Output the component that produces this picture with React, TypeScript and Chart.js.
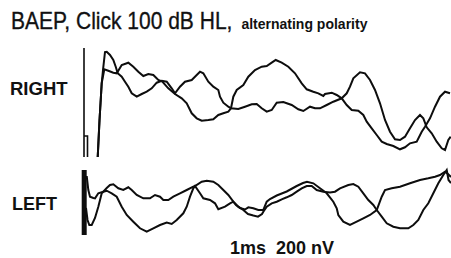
import React, { useEffect, useRef } from "react";
import { Chart, registerables } from "chart.js";

Chart.register(...registerables);

// time in ms, amplitude in nV
const timeMax = 9.275;

// RIGHT ear, two alternating-polarity averages
const rightA: number[][] = [
  [0.443, -570], [0.488, -200], [0.543, 170], [0.575, 300], [0.625, 480], [0.668, 483], [0.75, 450],
  [0.833, 400], [0.893, 333], [0.943, 267], [1.043, 233], [1.125, 183], [1.208, 133], [1.293, 67],
  [1.418, 33], [1.543, 60], [1.668, 83], [1.793, 117], [1.918, 173], [2.043, 193], [2.168, 183],
  [2.293, 117], [2.375, 67], [2.5, 133], [2.625, 183], [2.793, 200], [2.918, 250], [3.0, 283],
  [3.083, 267], [3.208, 183], [3.333, 133], [3.458, 100], [3.5, 33], [3.583, -27], [3.708, -67],
  [3.775, -83], [3.958, -90], [4.125, -67], [4.293, -43], [4.418, -40], [4.543, -83], [4.668, -117],
  [4.793, -100], [4.918, -27], [5.083, -20], [5.293, -50], [5.458, -93], [5.583, -110], [5.75, -67],
  [5.875, -83], [6.0, -83], [6.168, -50], [6.333, -17], [6.543, 17], [6.668, 67], [6.75, 133],
  [6.833, 217], [7.0, 277], [7.125, 267], [7.25, 200], [7.375, 100], [7.5, -33], [7.625, -200],
  [7.75, -317], [7.875, -393], [8.0, -400], [8.125, -367], [8.25, -283], [8.375, -200], [8.5, -150],
  [8.583, -183], [8.668, -273], [8.793, -333], [8.918, -417], [9.043, -483], [9.125, -500],
  [9.208, -400], [9.268, -367],
];

const rightB: number[][] = [
  [0.443, -570], [0.488, -200], [0.543, 170], [0.608, 307], [0.708, 293], [0.833, 273], [0.918, 267],
  [1.043, 350], [1.208, 373], [1.333, 333], [1.458, 283], [1.583, 240], [1.708, 260], [1.833, 250],
  [1.958, 200], [2.058, 183], [2.208, 117], [2.375, 60], [2.543, 17], [2.668, -33], [2.793, -133],
  [2.918, -183], [3.043, -207], [3.208, -200], [3.333, -193], [3.458, -150], [3.583, -133],
  [3.708, -117], [3.775, -83], [3.833, 33], [3.918, 100], [4.083, 150], [4.208, 233], [4.375, 300],
  [4.543, 333], [4.668, 340], [4.793, 373], [4.893, 400], [5.043, 373], [5.208, 333], [5.375, 267],
  [5.543, 167], [5.668, 107], [5.833, 83], [5.958, 67], [6.083, 40], [6.125, 60], [6.293, 73],
  [6.418, 50], [6.543, 17], [6.668, -50], [6.793, -100], [6.958, -107], [7.083, -150], [7.168, -217],
  [7.293, -283], [7.418, -350], [7.543, -417], [7.668, -440], [7.833, -460], [8.0, -493],
  [8.125, -473], [8.25, -433], [8.418, -417], [8.543, -317], [8.625, -267], [8.75, -183],
  [8.875, -67], [9.0, 33], [9.125, 83], [9.25, 67],
];

// stimulus artifact (null breaks the line)
const rightArtifact: (number | null)[][] = [
  [0.1, -570], [0.1, 520], [0.1, null], [0.1, -360], [0.1875, -360], [0.1875, -570],
];

// LEFT ear
const leftA: number[][] = [
  [0.168, 290], [0.208, 150], [0.25, 83], [0.333, 70], [0.375, 67], [0.458, 117], [0.583, 133],
  [0.668, 170], [0.75, 200], [0.833, 207], [0.958, 167], [1.083, 150], [1.208, 177], [1.293, 150],
  [1.418, 100], [1.583, 67], [1.75, 67], [1.875, 100], [2.0, 83], [2.083, 50], [2.208, 50],
  [2.333, 83], [2.5, 117], [2.668, 150], [2.833, 183], [2.875, 190], [3.043, 233], [3.168, 243],
  [3.333, 233], [3.458, 200], [3.583, 150], [3.708, 100], [3.833, 33], [3.958, -17], [4.083, -50],
  [4.2, -90], [4.333, -105], [4.45, -117], [4.55, -90], [4.583, -67], [4.668, -17], [4.793, 17],
  [4.918, 33], [5.043, 57], [5.168, 77], [5.293, 100], [5.418, 133], [5.543, 167], [5.668, 190],
  [5.793, 190], [5.918, 150], [6.083, 133], [6.25, 125], [6.375, 133], [6.5, 167], [6.708, 200],
  [6.833, 210], [6.958, 183], [7.083, 117], [7.208, 50], [7.333, 0], [7.418, -50], [7.543, -117],
  [7.668, -183], [7.833, -217], [8.0, -233], [8.208, -233], [8.333, -200], [8.458, -150],
  [8.583, -50], [8.708, 17], [8.833, 117], [8.958, 217], [9.083, 300], [9.168, 350], [9.213, 250],
  [9.275, 220],
];

const leftB: number[][] = [
  [0.15, -30], [0.188, -150], [0.233, -200], [0.293, -200], [0.375, -130], [0.458, -17],
  [0.543, 117], [0.583, 133], [0.668, 143], [0.793, 117], [0.918, 83], [1.043, -17], [1.168, -100],
  [1.333, -167], [1.5, -233], [1.668, -267], [1.833, -233], [2.0, -200], [2.168, -175],
  [2.293, -190], [2.418, -150], [2.583, -83], [2.668, -17], [2.75, 83], [2.833, 167], [2.875, 190],
  [3.0, 117], [3.083, 67], [3.25, 50], [3.375, 17], [3.458, -43], [3.625, -17], [3.75, 17],
  [3.833, 33], [3.9, 0], [4.0, -30], [4.125, -45], [4.208, -23], [4.333, -33], [4.458, -50],
  [4.583, -50], [4.668, 33], [4.75, 60], [4.918, 95], [5.168, 135], [5.418, 190], [5.575, 220],
  [5.675, 233], [5.833, 217], [6.0, 167], [6.168, 117], [6.333, 33], [6.418, -33], [6.458, -100],
  [6.583, -167], [6.75, -200], [6.918, -167], [7.083, -133], [7.25, -100], [7.418, -50],
  [7.543, 83], [7.625, 150], [7.793, 167], [8.0, 183], [8.25, 217], [8.5, 250], [8.708, 267],
  [8.875, 283], [9.0, 300], [9.125, 333], [9.2, 310], [9.275, 280],
];

const leftArtifact: number[][] = [
  [0.105, 350], [0.105, -300],
];

const titleMain = "BAEP, Click 100 dB HL,";
const titleSub = "alternating polarity";
const panelLabels = ["RIGHT", "LEFT"];
const scaleTime = "1ms";
const scaleAmp = "200 nV";

const ink = "#0d0d0d";

function toPts(arr: (number | null)[][]) {
  return arr.map(([x, y]) => ({ x: x as number, y: y as number | null }));
}

function makeConfig(traces: number[][][], artifact: (number | null)[][], artifactWidth: number, yLim: number): any {
  const datasets: any[] = traces.map((t) => ({
    data: toPts(t),
    borderColor: ink,
    borderWidth: 2,
    pointRadius: 0,
    fill: false,
    clip: false,
    tension: 0,
  }));
  datasets.push({
    data: toPts(artifact),
    borderColor: ink,
    borderWidth: artifactWidth,
    pointRadius: 0,
    fill: false,
    clip: false,
    spanGaps: false,
    tension: 0,
  });
  return {
    type: "line",
    data: { datasets },
    options: {
      animation: false,
      responsive: false,
      maintainAspectRatio: false,
      events: [],
      layout: { padding: 0 },
      plugins: { legend: { display: false }, tooltip: { enabled: false }, title: { display: false } },
      scales: {
        x: { type: "linear", min: 0, max: timeMax, display: false },
        y: { type: "linear", min: -yLim, max: yLim, display: false },
      },
    },
  };
}

export default function App() {
  const rightRef = useRef<HTMLCanvasElement | null>(null);
  const leftRef = useRef<HTMLCanvasElement | null>(null);

  useEffect(() => {
    const r = new Chart(rightRef.current as HTMLCanvasElement, makeConfig([rightA, rightB], rightArtifact, 1.6, 600));
    const l = new Chart(leftRef.current as HTMLCanvasElement, makeConfig([leftA, leftB], leftArtifact, 5, 450));
    return () => {
      r.destroy();
      l.destroy();
    };
  }, []);

  const font = "'Liberation Sans', Arial, Helvetica, sans-serif";
  const stroke = { WebkitTextStroke: "0.3px #111" } as any;

  return (
    <div style={{ position: "absolute", left: 0, top: 0, width: 451, height: 258, background: "#fff", overflow: "hidden", fontFamily: font, color: "#111" }}>
      <div style={{ position: "absolute", left: 11, top: 11, fontSize: 21, lineHeight: "21px", whiteSpace: "nowrap", transform: "scaleY(1.1)", transformOrigin: "0 17.8px", ...stroke }}>
        {titleMain}
        <span style={{ fontSize: 14, fontWeight: "bold", marginLeft: 9, WebkitTextStroke: "0px" }}>{titleSub}</span>
      </div>
      <div style={{ position: "absolute", left: 10, top: 80, fontSize: 18.5, lineHeight: "18px", fontWeight: "bold" }}>{panelLabels[0]}</div>
      <div style={{ position: "absolute", left: 12, top: 195, fontSize: 18, lineHeight: "18px", fontWeight: "bold" }}>{panelLabels[1]}</div>
      <div style={{ position: "absolute", left: 230, top: 239, fontSize: 18, lineHeight: "18px", fontWeight: "bold" }}>{scaleTime}</div>
      <div style={{ position: "absolute", left: 276, top: 239, fontSize: 18, lineHeight: "18px", fontWeight: "bold" }}>{scaleAmp}</div>
      <canvas ref={rightRef} width={371} height={120} style={{ position: "absolute", left: 80, top: 40, display: "block" }} />
      <canvas ref={leftRef} width={371} height={90} style={{ position: "absolute", left: 80, top: 160, display: "block" }} />
    </div>
  );
}
